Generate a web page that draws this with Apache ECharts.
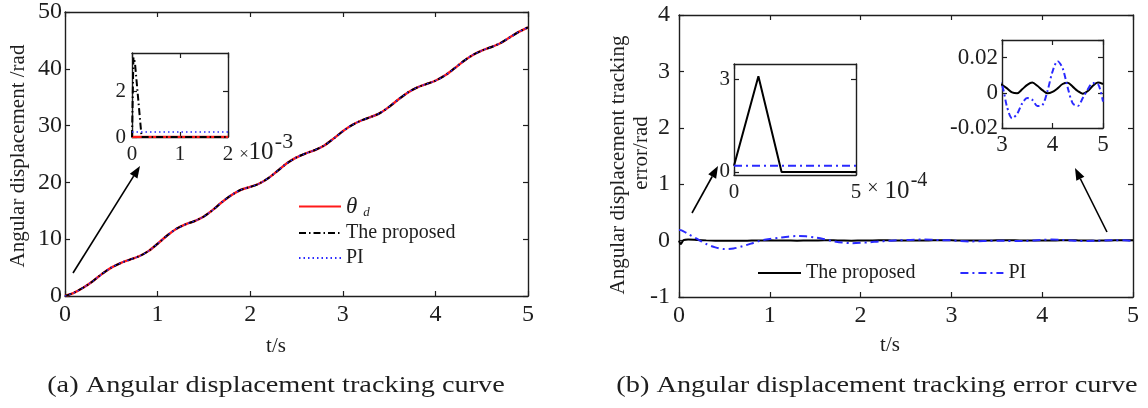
<!DOCTYPE html>
<html><head><meta charset="utf-8">
<script src="https://cdn.jsdelivr.net/npm/echarts@6/dist/echarts.min.js"></script>
<style>html,body{margin:0;padding:0;background:#fff}#c{width:1148px;height:408px}</style>
</head><body><div id="c"></div>
<script>
// ---------- (a) Angular displacement tracking ----------
const tA = [0,0.1,0.2,0.3,0.4,0.5,0.6,0.7,0.8,0.9,1.0,1.1,1.2,1.3,1.4,1.5,1.6,1.7,1.8,1.9,2.0,2.1,2.2,2.3,2.4,2.5,2.6,2.7,2.8,2.9,3.0,3.1,3.2,3.3,3.4,3.5,3.6,3.7,3.8,3.9,4.0,4.1,4.2,4.3,4.4,4.5,4.6,4.7,4.8,4.9,5.0];
const thetaD = [0,0.6,1.5,2.6,3.9,5.0,5.8,6.4,7.0,7.9,9.2,10.6,11.8,12.6,13.2,14.0,15.2,16.6,17.8,18.7,19.2,19.8,20.8,22.1,23.4,24.4,25.1,25.7,26.5,27.7,29.0,30.1,30.9,31.5,32.2,33.3,34.6,35.8,36.7,37.3,37.9,38.8,40.0,41.3,42.4,43.2,43.8,44.5,45.5,46.5,47.3];
const thetaProposed = thetaD;
const thetaPI = thetaD;
// inset of (a): t in units of 1e-3 s
const tInsetA = [0,0.03,0.06,0.2,2];
const insetThetaD = [0,0,0,0,0];
const insetProposed = [0,3.5,3.3,0,0];
const insetPI = [0.22,0.22,0.22,0.22,0.22];
const xTicksA = [0,1,2,3,4,5];
const yTicksA = [0,10,20,30,40,50];
const yTicksInsetA = [0,2];

// ---------- (b) Angular displacement tracking error ----------
const tErr = [0,0.02,0.05,0.1,0.2,0.3,0.4,0.5,0.6,0.7,0.8,0.9,1.0,1.1,1.2,1.3,1.4,1.5,1.6,1.7,1.8,1.9,2.0,2.1,2.2,2.3,2.4,2.5,2.6,2.7,2.8,2.9,3.0,3.1,3.2,3.3,3.4,3.5,3.6,3.7,3.8,3.9,4.0,4.1,4.2,4.3,4.4,4.5,4.6,4.7,4.8,4.9,5.0];
const errProposed = [0,-0.06,0.01,0.02,0.012,0.004,-0.002,-0.004,-0.004,-0.002,0.001,0.003,0.004,0.003,0.001,-0.001,0.001,0.003,0.005,0.004,0.001,-0.001,0.001,0.003,0.005,0.004,0.001,0.001,-0.0003,0.0015,0.004,0.0056,0.0045,0.0025,0.0002,-0.0003,0.002,0.0045,0.0058,0.004,0.0015,-0.0003,0.0005,0.0025,0.005,0.0057,0.0035,0.001,-0.0005,0.001,0.004,0.0058,0.005];
const errPI = [0.19,0.185,0.165,0.12,0.03,-0.06,-0.12,-0.15,-0.14,-0.10,-0.05,0.0,0.03,0.05,0.07,0.08,0.075,0.055,0.025,-0.01,-0.035,-0.045,-0.04,-0.03,-0.015,-0.005,0.005,0.01,0.015,0.02,0.015,0.008,0.0045,-0.008,-0.0145,-0.012,-0.006,-0.003,-0.004,-0.0075,-0.007,0.001,0.012,0.018,0.014,0.003,-0.006,-0.0075,-0.003,0.002,0.0055,0.005,-0.005];
// inset of (b): t in units of 1e-4 s
const tInsetB = [0,1,1.95,5];
const insetErrProposed = [0.2,3.1,0,0];
const insetErrPI = [0.2,0.2,0.2,0.2];
const yTicksInsetB = [0,3];

const FONT = 'Liberation Serif';
const INK = '#1e1e1e';
const pairs = (xs, ys) => xs.map((x, i) => [x, ys[i]]);

function xAxes(grid, min, max, interval, fs, margin) {
  const base = {type:'value', gridIndex:grid, min, max, interval,
    axisLine:{show:true, onZero:false, lineStyle:{color:INK, width:1.4}},
    axisTick:{show:true, inside:true, length:5, lineStyle:{color:INK, width:1.2}},
    splitLine:{show:false}};
  return [
    Object.assign({}, base, {position:'bottom', axisLabel:{color:INK, fontFamily:FONT, fontSize:fs, margin}}),
    Object.assign({}, base, {position:'top', axisLabel:{show:false}})
  ];
}
function yAxes(grid, min, max, interval, fs, margin, custom) {
  const base = {type:'value', gridIndex:grid, min, max, interval,
    axisLine:{show:true, onZero:false, lineStyle:{color:INK, width:1.4}},
    axisTick:{show:true, inside:true, length:5, lineStyle:{color:INK, width:1.2}},
    splitLine:{show:false}};
  if (custom) { base.axisTick = Object.assign({}, base.axisTick, {customValues:custom}); }
  const lab = {color:INK, fontFamily:FONT, fontSize:fs, margin};
  if (custom) lab.customValues = custom;
  return [
    Object.assign({}, base, {position:'left', axisLabel:lab}),
    Object.assign({}, base, {position:'right', axisLabel:{show:false}})
  ];
}

const grids = [
  {left:65, top:11, width:463, height:285},
  {left:132, top:53, width:96, height:84},
  {left:679, top:15, width:454, height:282},
  {left:734, top:64, width:122, height:111},
  {left:1002, top:40, width:101, height:88}
].map(g => Object.assign({show:true, backgroundColor:'#fff', borderWidth:0}, g));

const xAxis = [].concat(
  xAxes(0, xTicksA[0], xTicksA[xTicksA.length-1], 1, 24, 7),
  xAxes(1, 0, 2, 1, 21, 7),
  xAxes(2, 0, 5, 1, 24, 7),
  xAxes(3, 0, 5, 5, 21, 7),
  xAxes(4, 3, 5, 1, 23, 5)
);
const yAxis = [].concat(
  yAxes(0, yTicksA[0], yTicksA[yTicksA.length-1], 10, 24, 3),
  yAxes(1, 0, 3.7, null, 21, 6, yTicksInsetA),
  yAxes(2, -1, 4, 1, 24, 9),
  yAxes(3, -0.1, 3.5, null, 21, 4, yTicksInsetB),
  yAxes(4, -0.02, 0.03, 0.02, 23, 4)
);

const RED = '#ff1a1a', BLUE = '#2a2aff', BLACK = '#000';
const DASHDOT = [7,3,1.5,3];
function line(name, g, data, color, width, type, z) {
  return {name, type:'line', xAxisIndex:2*g, yAxisIndex:2*g, data, showSymbol:false, symbol:'none',
    smooth:0.3, lineStyle:{color, width, type}, itemStyle:{color}, z:z||2, silent:true, animation:false};
}
const series = [
  line('θd', 0, pairs(tA, thetaD), RED, 2.4, 'solid', 2),
  line('The proposed', 0, pairs(tA, thetaProposed), BLACK, 2, DASHDOT, 3),
  line('PI', 0, pairs(tA, thetaPI), BLUE, 1.4, [1.5,3], 4),
  Object.assign(line('a-inset-θd', 1, pairs(tInsetA, insetThetaD), RED, 2.4, 'solid', 2), {smooth:false}),
  Object.assign(line('a-inset-proposed', 1, pairs(tInsetA, insetProposed), BLACK, 2, DASHDOT, 3), {smooth:false}),
  Object.assign(line('a-inset-PI', 1, pairs(tInsetA, insetPI), BLUE, 1.6, [1.5,3], 4), {smooth:false}),
  line('The proposed ', 2, pairs(tErr, errProposed), BLACK, 2, 'solid', 3),
  line('PI ', 2, pairs(tErr, errPI), BLUE, 2, [8,4,2,4], 4),
  Object.assign(line('b-inset1-proposed', 3, pairs(tInsetB, insetErrProposed), BLACK, 2, 'solid', 3), {smooth:false}),
  Object.assign(line('b-inset1-PI', 3, pairs(tInsetB, insetErrPI), BLUE, 2, [8,4,2,4], 4), {smooth:false}),
  line('b-inset2-proposed', 4, pairs(tErr, errProposed), BLACK, 2, 'solid', 3),
  line('b-inset2-PI', 4, pairs(tErr, errPI), BLUE, 2, [6,3,2,3], 4)
];

function arrow(x1, y1, x2, y2) {
  const a = Math.atan2(y2 - y1, x2 - x1), L = 12, W = 4.5;
  const bx = x2 - L * Math.cos(a), by = y2 - L * Math.sin(a);
  return [
    {type:'line', shape:{x1, y1, x2:bx, y2:by}, style:{stroke:'#000', lineWidth:1.6}, z:10},
    {type:'polygon', shape:{points:[[x2, y2], [bx + W*Math.sin(a), by - W*Math.cos(a)], [bx - W*Math.sin(a), by + W*Math.cos(a)]]}, style:{fill:'#000'}, z:10}
  ];
}
function txt(text, x, y, fs, extra) {
  return Object.assign({type:'text', x, y, z:10, style:{text, fontFamily:FONT, fontSize:fs, fill:INK,
    textAlign:'center', textVerticalAlign:'middle'}}, extra || {});
}
const ROT = {rotation: Math.PI / 2};

const graphic = [].concat(
  arrow(73, 273, 140, 166),
  arrow(692, 213, 718, 166),
  arrow(1107, 232, 1075, 168),
  [
    txt('Angular displacement /rad', 18, 156, 21, ROT),
    txt('Angular displacement tracking', 618, 165, 21, ROT),
    txt('error/rad', 641, 153, 21, ROT),
    txt('t/s', 276, 346, 21),
    txt('t/s', 890, 345, 21),
    txt('(a) Angular displacement tracking curve', 276, 386, 24, {scaleX:1.18}),
    txt('(b) Angular displacement tracking error curve', 877, 386, 24, {scaleX:1.18}),
    txt('×', 244, 155, 17),
    txt('10', 261, 152, 25),
    txt('-3', 284, 142, 22),
    txt('×', 873, 189, 20),
    txt('10', 897, 191, 25),
    txt('-4', 919, 181, 20)
  ]
);

const legendText = {fontFamily:FONT, fontSize:20, color:INK, lineHeight:22,
  rich:{th:{fontFamily:FONT, fontStyle:'italic', fontSize:23, color:INK},
        sub:{fontFamily:FONT, fontStyle:'italic', fontSize:13, color:INK, padding:[12,0,0,6]}}};
const hideSym = {opacity:0, color:'transparent', borderWidth:0};
const legend = [
  {orient:'vertical', left:298, top:195, padding:0, itemWidth:42, itemHeight:16, itemGap:3,
   data:['θd','The proposed','PI'], textStyle:legendText, selectedMode:false, itemStyle:hideSym,
   formatter: n => n === 'θd' ? '{th|θ}{sub|d}' : n},
  {orient:'horizontal', left:757, top:262, padding:0, itemWidth:43, itemHeight:16, itemGap:44,
   data:['The proposed ','PI '], textStyle:legendText, selectedMode:false, itemStyle:hideSym,
   formatter: n => n.trim()}
];

const chart = echarts.init(document.getElementById('c'), null, {renderer:'canvas'});
chart.setOption({animation:false, backgroundColor:'#fff', grid:grids, xAxis, yAxis, series, legend, graphic});
</script></body></html>
